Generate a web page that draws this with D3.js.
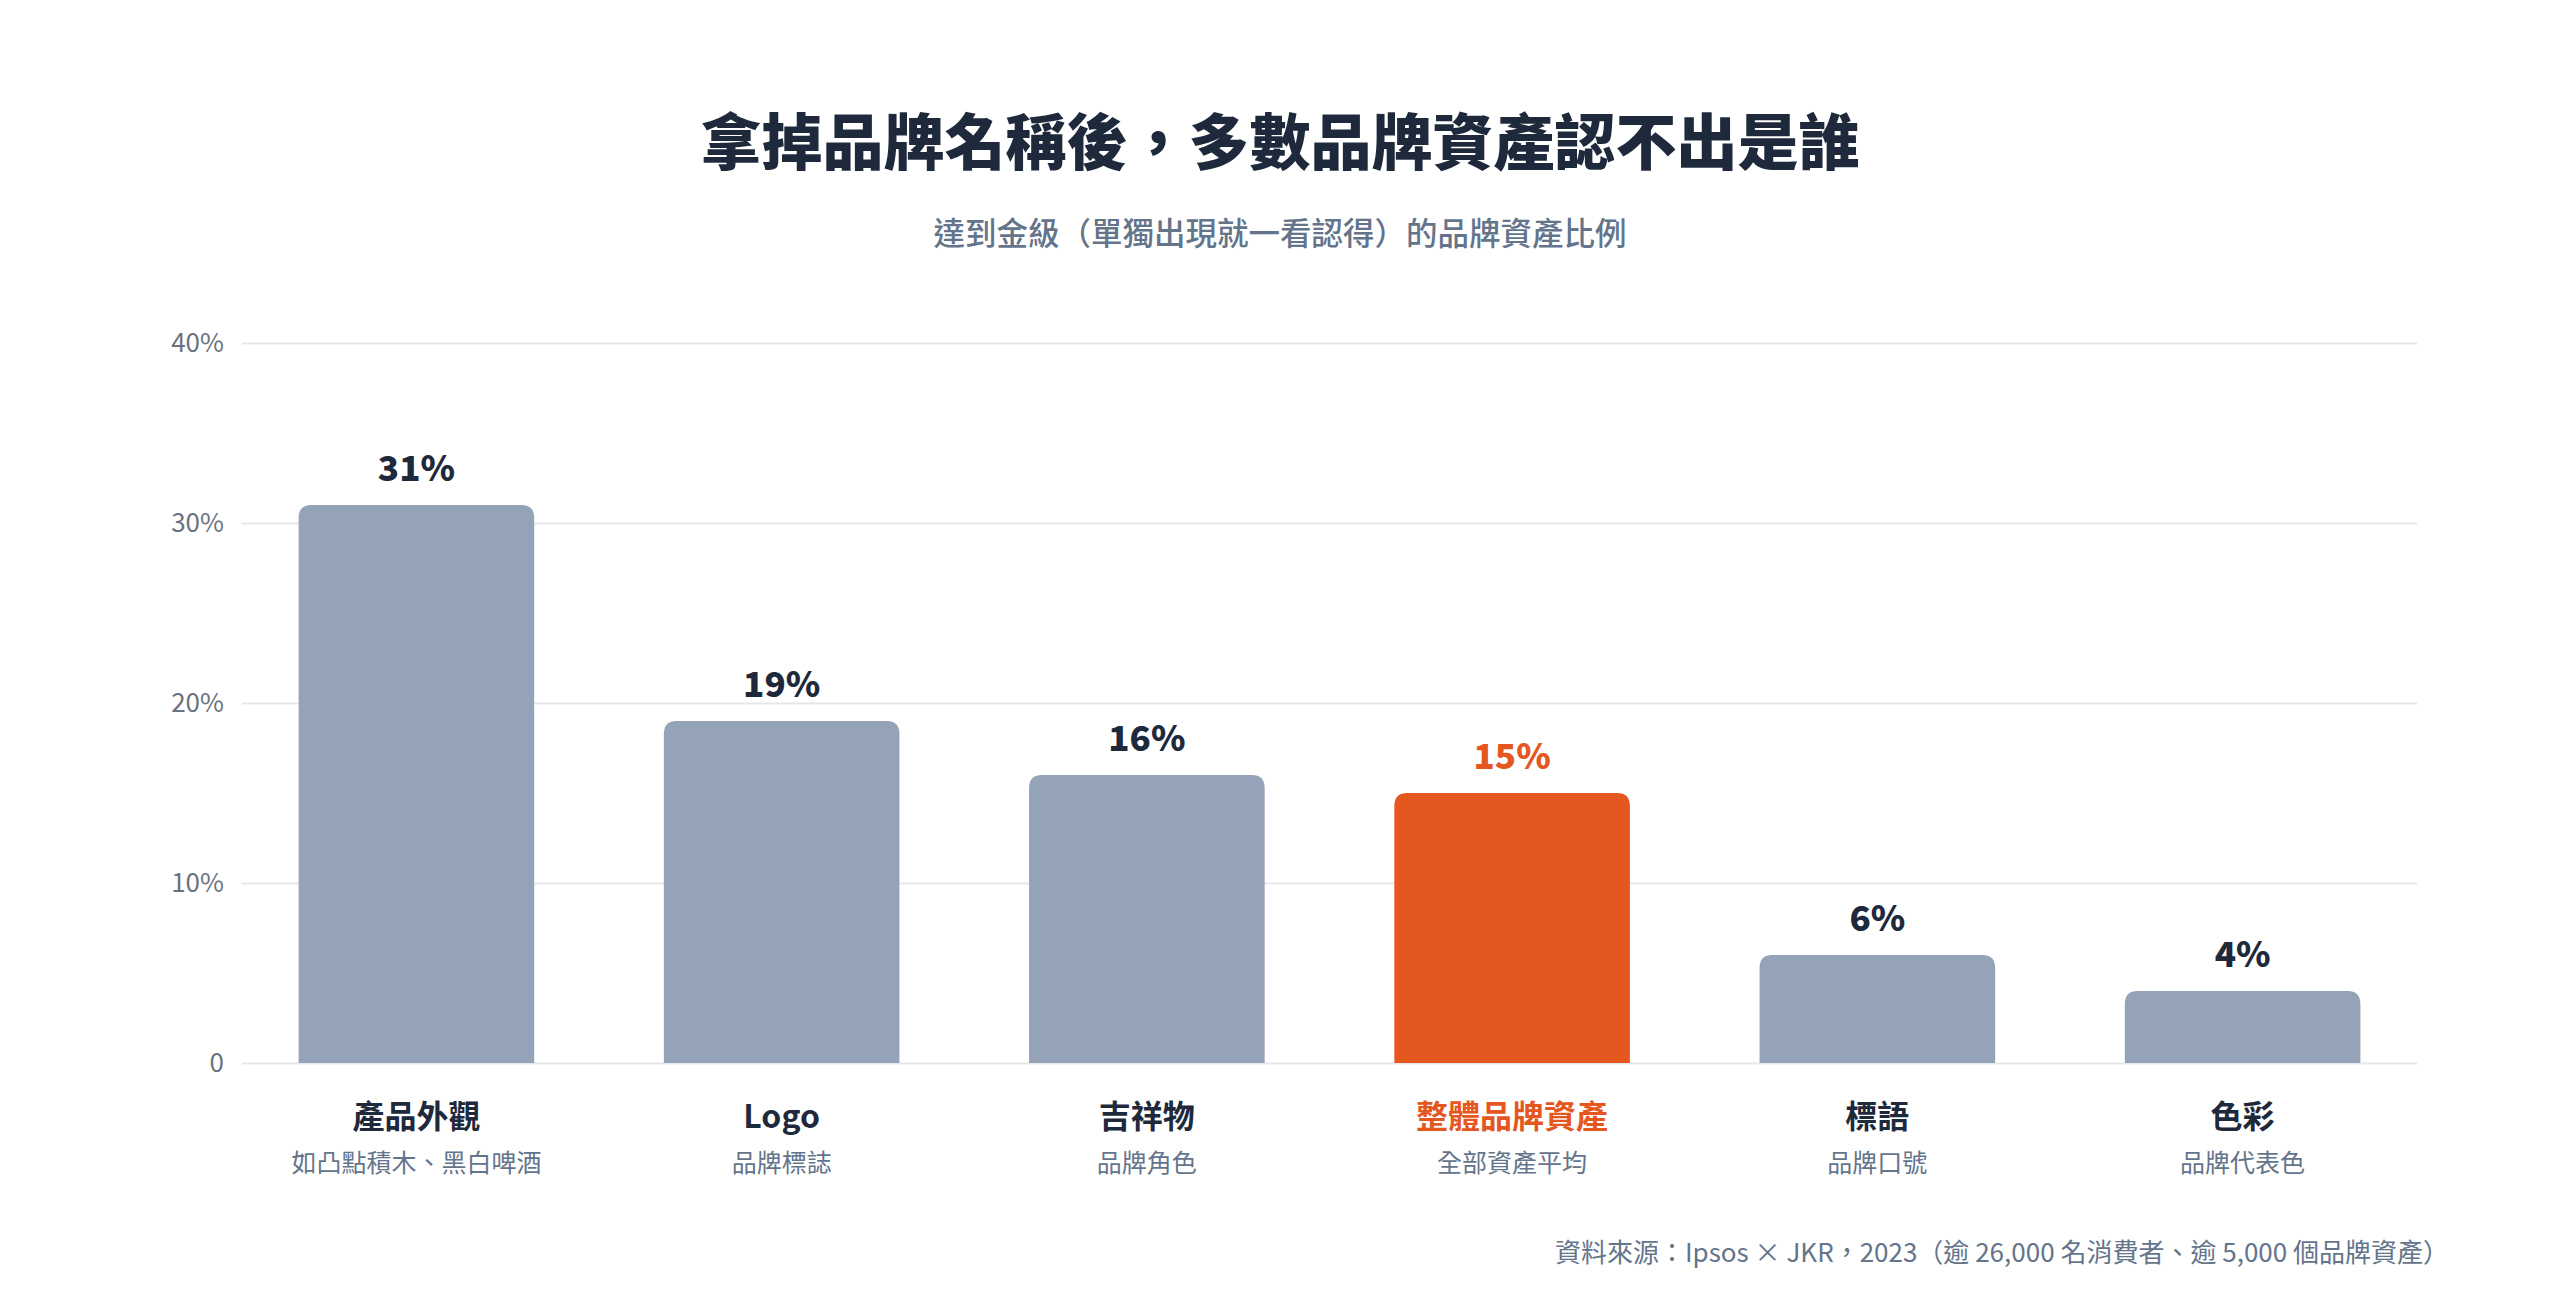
<!DOCTYPE html>
<html><head><meta charset="utf-8">
<script src="https://cdn.jsdelivr.net/npm/d3@7"></script>
<style>body{margin:0;background:#fff;font-family:"Noto Sans CJK TC","Noto Sans",sans-serif}</style>
</head><body><svg id="c" width="2560" height="1292"></svg>
<script>
const categories=["產品外觀","Logo","吉祥物","整體品牌資產","標語","色彩"];
const subLabels=["如凸點積木、黑白啤酒","品牌標誌","品牌角色","全部資產平均","品牌口號","品牌代表色"];
const values=[31,19,16,15,6,4];
const highlight=[false,false,false,true,false,false];
const yTicks=[0,10,20,30,40];
const title="拿掉品牌名稱後，多數品牌資產認不出是誰";
const subtitle="達到金級（單獨出現就一看認得）的品牌資產比例";
const source="資料來源：Ipsos × JKR，2023（逾 26,000 名消費者、逾 5,000 個品牌資產）";

const svg=d3.select("#c");
const grey="#94A3B8",orange="#E4571F",dark="#1E293B",mid="#64748B",tick="#6B7280";
const x=d3.scaleBand().domain(categories).range([242,2417]).paddingInner(0.355).paddingOuter(0.155);
const y=d3.scaleLinear().domain([0,40]).range([1063,343]);

svg.append("text").attr("x",1280).attr("y",165).attr("text-anchor","middle").attr("font-size",61).attr("font-weight",900).attr("fill",dark).text(title);
svg.append("text").attr("x",1280).attr("y",245).attr("text-anchor","middle").attr("font-size",31.5).attr("font-weight",500).attr("fill",mid).text(subtitle);

const yAxis=d3.axisLeft(y).tickValues(yTicks).tickFormat(d=>d===0?"0":d+"%").tickSize(-(2417-242)).tickPadding(18);
const ga=svg.append("g").attr("transform","translate(242,0)").call(yAxis);
ga.select(".domain").remove();
ga.selectAll(".tick line").attr("stroke","#E5E7EB").attr("stroke-width",2);
ga.selectAll(".tick text").attr("font-size",26).attr("fill",tick).attr("font-family","Noto Sans CJK TC");

const r=13;
function topRounded(x0,y0,w,h){
  return `M${x0},${y0+h}V${y0+r}Q${x0},${y0} ${x0+r},${y0}H${x0+w-r}Q${x0+w},${y0} ${x0+w},${y0+r}V${y0+h}Z`;
}
const data=categories.map((c,i)=>({c,v:values[i],s:subLabels[i],h:highlight[i]}));
svg.selectAll("path.bar").data(data).join("path").attr("class","bar")
 .attr("d",d=>topRounded(x(d.c),y(d.v),x.bandwidth(),y(0)-y(d.v))).attr("fill",d=>d.h?orange:grey);
svg.selectAll("text.val").data(data).join("text").attr("class","val")
 .attr("x",d=>x(d.c)+x.bandwidth()/2).attr("y",d=>y(d.v)-24).attr("text-anchor","middle")
 .attr("font-size",35).attr("font-weight",900).attr("fill",d=>d.h?orange:dark).text(d=>d.v+"%");
svg.selectAll("text.cat").data(data).join("text").attr("class","cat")
 .attr("x",d=>x(d.c)+x.bandwidth()/2).attr("y",1128).attr("text-anchor","middle")
 .attr("font-size",32).attr("font-weight",700).attr("fill",d=>d.h?orange:dark).text(d=>d.c);
svg.selectAll("text.sub").data(data).join("text").attr("class","sub")
 .attr("x",d=>x(d.c)+x.bandwidth()/2).attr("y",1172).attr("text-anchor","middle")
 .attr("font-size",25).attr("fill",mid).text(d=>d.s);
svg.append("text").attr("x",2449).attr("y",1262).attr("text-anchor","end").attr("font-size",26).attr("fill",mid).text(source);
</script></body></html>
